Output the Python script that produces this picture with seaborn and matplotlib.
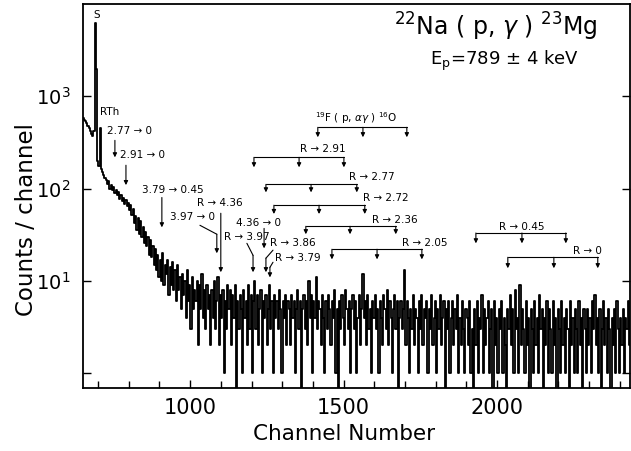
import numpy as np
import pandas as pd
import seaborn as sns
import matplotlib.pyplot as plt
from matplotlib.ticker import MultipleLocator, NullLocator

# Spectrum, one value per 4 channels starting at channel 651
start_channel = 651
channel_step = 4
counts = [
    # 651 - 723 : falling edge, S peak, RTh line
    578, 560, 540, 510, 480, 450, 420, 395, 370, 420,
    6300, 2000, 200, 175, 450, 165, 150, 140, 130,
    # 727 - 1203
    125, 112, 120, 100, 108, 96, 104, 90, 97, 85,
    92, 78, 86, 74, 80, 68, 76, 64, 70, 58,
    66, 52, 60, 42, 50, 36, 48, 32, 44, 30,
    38, 26, 34, 24, 30, 19, 28, 18, 24, 15,
    22, 13, 19, 11, 17, 10, 20, 9, 15, 12,
    17, 7, 14, 9, 16, 8, 13, 6, 15, 8,
    11, 5, 12, 7, 10, 4, 13, 6, 9, 3,
    11, 5, 8, 6, 10, 2, 9, 5, 12, 4,
    8, 3, 9, 5, 7, 2, 8, 4, 10, 3,
    6, 11, 2, 7, 4, 8, 1, 6, 3, 9,
    5, 8, 2, 7, 4, 9, 0, 6, 3, 7,
    5, 1, 8, 4, 6, 2, 9, 3, 7, 1,
    # 1207 - 2403
    6, 10, 3, 7, 2, 5, 8, 1, 6, 4,
    7, 2, 5, 9, 3, 6, 1, 7, 4, 6,
    3, 8, 5, 1, 6, 4, 7, 2, 6, 5,
    2, 7, 4, 6, 1, 5, 8, 3, 6, 0,
    5, 7, 3, 6, 2, 10, 4, 7, 1, 6,
    4, 11, 3, 6, 5, 2, 7, 4, 1, 6,
    3, 7, 5, 2, 6, 4, 8, 1, 5, 0,
    6, 3, 7, 4, 2, 8, 5, 3, 6, 1,
    5, 7, 3, 6, 1, 4, 7, 2, 5, 12,
    4, 6, 2, 7, 3, 5, 1, 6, 4, 7,
    3, 5, 1, 6, 4, 2, 7, 5, 3, 8,
    2, 6, 4, 1, 5, 7, 3, 6, 0, 4,
    6, 3, 5, 13, 2, 6, 4, 1, 5, 3,
    7, 2, 5, 4, 1, 6, 3, 7, 2, 5,
    4, 6, 1, 5, 3, 7, 2, 4, 6, 1,
    5, 3, 7, 2, 4, 6, 0, 5, 3, 6,
    1, 4, 6, 2, 5, 3, 7, 1, 4, 2,
    6, 3, 1, 5, 4, 2, 6, 1, 3, 0,
    5, 2, 6, 1, 4, 3, 7, 1, 5, 2,
    4, 6, 1, 3, 5, 0, 6, 2, 4, 1,
    5, 3, 6, 1, 4, 2, 0, 5, 3, 7,
    2, 5, 1, 8, 3, 4, 1, 9, 2, 5,
    3, 1, 6, 2, 4, 0, 5, 3, 1, 6,
    2, 4, 1, 7, 3, 5, 0, 4, 2, 6,
    1, 5, 3, 1, 6, 2, 4, 0, 5, 3,
    1, 6, 2, 4, 1, 5, 3, 0, 6, 2,
    4, 1, 5, 3, 1, 6, 2, 4, 0, 5,
    3, 1, 5, 2, 4, 1, 6, 3, 7, 2,
    4, 1, 5, 0, 3, 6, 2, 4, 1, 5,
    3, 0, 4, 2, 5, 1, 6, 3, 1, 4,
    # 2407 - 2435
    2, 5, 1, 4, 3, 6, 2, 4,
]

# single line labels (text left edge in channels, text centre in counts)
line_labels = ["S", "RTh", "2.77 → 0", "2.91 → 0", "3.79 → 0.45", "R → 4.36",
               "3.97 → 0", "4.36 → 0", "R → 3.97", "R → 3.86", "R → 3.79"]
line_label_ch = [684, 706, 729, 772, 843, 1022, 934, 1149, 1110, 1260, 1276]
line_label_cts = [7550, 671, 418, 230, 96, 69, 49, 42, 30, 25.5, 17.6]

# arrows of the single lines (polyline, last segment carries the head)
arrow_ch = [[755, 755], [791, 791], [908, 908], [1100, 1100], [1032, 1087, 1087],
            [1241, 1241], [1185, 1205, 1205], [1270, 1247, 1247], [1270, 1260, 1260]]
arrow_cts = [[333, 218], [179, 109], [80, 38], [54, 12.4], [40, 32, 19.9],
             [37, 22.5], [25.5, 18.9, 12.4], [21.5, 17.6, 12.4], [15.9, 14, 10.9]]

# bracketed groups (full energy, single and double escape)
bracket_labels = [r"$^{19}$F ( p, $\alpha\gamma$ ) $^{16}$O", "R → 2.91", "R → 2.77",
                  "R → 2.72", "R → 2.36", "R → 2.05", "R → 0.45", "R → 0"]
bracket_label_ch = [1407, 1358, 1517, 1563, 1592, 1690, 2006, 2247]
bracket_label_cts = [578, 267, 133, 80, 46, 25.5, 38, 21]
bracket_bar_cts = [461, 218, 111, 66, 39, 22, 33, 18]
bracket_tip_cts = [360, 170, 91, 53, 32, 17.1, 25.5, 13.7]
bracket_ch = [[1416, 1563, 1706], [1208, 1355, 1501], [1247, 1394, 1543],
              [1273, 1420, 1569], [1377, 1521, 1670], [1462, 1609, 1755],
              [1931, 2081, 2224], [2035, 2185, 2328]]

channels = start_channel + channel_step * np.arange(len(counts))
df = pd.DataFrame({"Channel": channels, "Counts": counts})

sns.set_theme(style="ticks")
plt.rcParams["font.family"] = ["DejaVu Sans"]
plt.rcParams["text.color"] = "black"
plt.rcParams["axes.labelcolor"] = "black"
plt.rcParams["xtick.color"] = "black"
plt.rcParams["ytick.color"] = "black"

fig = plt.figure(figsize=(6.31, 4.51), dpi=100)
ax = fig.add_axes([0.1315, 0.1397, 0.8669, 0.8514])

sns.lineplot(data=df, x="Channel", y="Counts", ax=ax, color="black", lw=1.3,
             drawstyle="steps-mid", estimator=None, sort=False)
ax.set_yscale("log", nonpositive="clip")
ax.set_xlim(651, 2433)
ax.set_ylim(0.69, 1e4)

ax.set_xticks([1000, 1500, 2000])
ax.xaxis.set_minor_locator(MultipleLocator(100))
ax.set_yticks([1, 10, 100, 1000])
ax.set_yticklabels(["", r"$10^1$", r"$10^2$", r"$10^3$"])
ax.yaxis.set_minor_locator(NullLocator())
ax.tick_params(which="both", direction="in", right=True, top=False, color="black", width=1)
ax.tick_params(axis="x", which="major", length=6, labelsize=15, pad=7)
ax.tick_params(axis="x", which="minor", length=5)
ax.tick_params(axis="y", length=6, labelsize=14, pad=9)
for s in ax.spines.values():
    s.set_linewidth(1.3)
    s.set_color("black")

ax.set_xlabel("Channel Number", fontsize=15.5)
ax.set_ylabel("Counts / channel", fontsize=16.5)
ax.xaxis.set_label_coords(0.477, -0.093)
ax.yaxis.set_label_coords(-0.082, 0.4375)


def draw_arrow(x0, y0, x1, y1):
    ax.annotate("", xy=(x1, y1), xytext=(x0, y0),
                arrowprops=dict(arrowstyle="-|>", color="black", lw=0.8,
                                mutation_scale=6, shrinkA=0, shrinkB=0))


for lab, xc, yc in zip(line_labels, line_label_ch, line_label_cts):
    ax.text(xc, yc, lab, fontsize=7.5, ha="left", va="center")

for xs, ys in zip(arrow_ch, arrow_cts):
    if len(xs) > 2:
        ax.plot(xs[:-1], ys[:-1], color="black", lw=0.8)
    draw_arrow(xs[-2], ys[-2], xs[-1], ys[-1])

for lab, lx, ly, bar, tip, xs in zip(bracket_labels, bracket_label_ch, bracket_label_cts,
                                     bracket_bar_cts, bracket_tip_cts, bracket_ch):
    ax.text(lx, ly, lab, fontsize=7.5, ha="left", va="center")
    ax.plot([xs[0], xs[-1]], [bar, bar], color="black", lw=0.8)
    for x in xs:
        draw_arrow(x, bar, x, tip)

ax.text(0.755, 0.919, r"$^{22}$Na ( p, $\gamma$ ) $^{23}$Mg", fontsize=17,
        ha="center", va="baseline", transform=ax.transAxes)
ax.text(0.770, 0.841, r"E$_{\rm p}$=789 ± 4 keV", fontsize=13,
        ha="center", va="baseline", transform=ax.transAxes)

fig.savefig("out.png", dpi=100)
